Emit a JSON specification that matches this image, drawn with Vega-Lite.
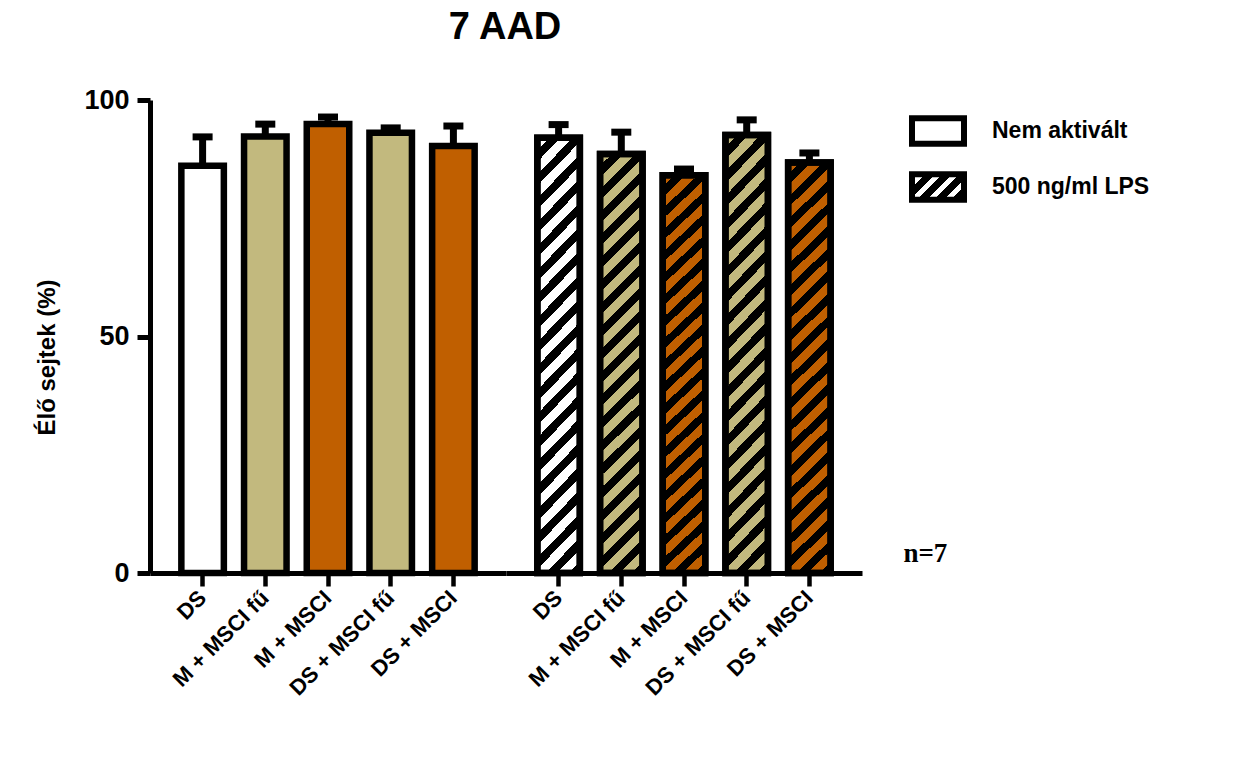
{
  "$schema": "https://vega.github.io/schema/vega-lite/v6.json",
  "padding": {"left": 35, "top": 9, "right": 5, "bottom": 0},
  "bounds": "flush",
  "title": {"text": "7 AAD", "fontSize": 38, "font": "Liberation Sans", "fontWeight": "bold", "anchor": "middle", "color": "black", "offset": 39, "dx": -88},
  "data": {"values": [
    {"treatment": "Nem aktivált", "sample": "DS", "mean": 86.1, "upper": 92.2},
    {"treatment": "Nem aktivált", "sample": "M + MSCI fű", "mean": 92.3, "upper": 94.9},
    {"treatment": "Nem aktivált", "sample": "M + MSCI", "mean": 94.9, "upper": 96.4},
    {"treatment": "Nem aktivált", "sample": "DS + MSCI fű", "mean": 93.1, "upper": 94.1},
    {"treatment": "Nem aktivált", "sample": "DS + MSCI", "mean": 90.3, "upper": 94.5},
    {"treatment": "500 ng/ml LPS", "sample": "DS", "mean": 92.0, "upper": 94.8},
    {"treatment": "500 ng/ml LPS", "sample": "M + MSCI fű", "mean": 88.6, "upper": 93.2},
    {"treatment": "500 ng/ml LPS", "sample": "M + MSCI", "mean": 84.1, "upper": 85.4},
    {"treatment": "500 ng/ml LPS", "sample": "DS + MSCI fű", "mean": 92.6, "upper": 95.8},
    {"treatment": "500 ng/ml LPS", "sample": "DS + MSCI", "mean": 86.8, "upper": 88.8}
  ]},
  "facet": {"column": {"field": "treatment", "type": "nominal", "sort": ["Nem aktivált", "500 ng/ml LPS"], "header": {"title": null, "labels": false}}},
  "spacing": 0,
  "spec": {
    "width": 356,
    "height": 473,
    "encoding": {
      "x": {"field": "sample", "type": "nominal",
        "scale": {"domain": ["DS", "M + MSCI fű", "M + MSCI", "DS + MSCI fű", "DS + MSCI"], "paddingInner": 0.322, "paddingOuter": 0.5},
        "axis": {"title": null, "labelAngle": -45, "labelAlign": "right", "labelBaseline": "middle", "labelFontSize": 22, "labelFontWeight": "bold", "labelFont": "Liberation Sans", "labelColor": "black", "labelPadding": 8, "labelLimit": 400, "labelOverlap": false, "domainColor": "black", "domainWidth": 5, "tickColor": "black", "tickWidth": 4.5, "tickSize": 13}},
      "y": {"field": "mean", "type": "quantitative", "title": "Élő sejtek (%)",
        "scale": {"domain": [0, 100], "nice": false},
        "axis": {"values": [0, 50, 100], "grid": false, "domainColor": "black", "domainWidth": 5, "tickColor": "black", "tickWidth": 5, "tickSize": 13, "labelFontSize": 27, "labelFontWeight": "bold", "labelFont": "Liberation Sans", "labelColor": "black", "labelPadding": 8, "titleFontSize": 24, "titleFontWeight": "bold", "titleFont": "Liberation Sans", "titleColor": "black", "titlePadding": 24, "titleY": 257}}
    },
    "layer": [
      {
        "mark": {"type": "bar", "strokeWidth": 6.5},
        "encoding": {
          "fill": {"field": "sample", "type": "nominal", "legend": null,
            "scale": {"domain": ["DS", "M + MSCI fű", "M + MSCI", "DS + MSCI fű", "DS + MSCI"], "range": ["#ffffff", "#C2B97E", "#C05F00", "#C2B97E", "#C05F00"]}},
          "stroke": {"field": "treatment", "type": "nominal",
            "scale": {"domain": ["Nem aktivált", "500 ng/ml LPS"], "range": ["black", "black"]},
            "legend": {"orient": "none", "legendX": 759, "legendY": 2, "title": null,
              "symbolType": "M-1,-0.49H1V0.49H-1Z", "symbolSize": 2704, "symbolStrokeWidth": 6, "symbolStrokeColor": "black",
              "symbolFillColor": {"expr": "datum.value === '500 ng/ml LPS' ? {gradient: 'linear', x1: 0, y1: 0, x2: 1.201, y2: 0.591, stops: [{offset: 0, color: '#000000'}, {offset: 0.08, color: '#000000'}, {offset: 0.08, color: '#ffffff'}, {offset: 0.17, color: '#ffffff'}, {offset: 0.17, color: '#000000'}, {offset: 0.3, color: '#000000'}, {offset: 0.3, color: '#ffffff'}, {offset: 0.39, color: '#ffffff'}, {offset: 0.39, color: '#000000'}, {offset: 0.52, color: '#000000'}, {offset: 0.52, color: '#ffffff'}, {offset: 0.61, color: '#ffffff'}, {offset: 0.61, color: '#000000'}, {offset: 0.74, color: '#000000'}, {offset: 0.74, color: '#ffffff'}, {offset: 0.83, color: '#ffffff'}, {offset: 0.83, color: '#000000'}, {offset: 1, color: '#000000'}]} : '#ffffff'"},
              "labelFontSize": 23, "labelFontWeight": "bold", "labelFont": "Liberation Sans", "labelColor": "black",
              "labelOffset": 25, "rowPadding": 2, "labelLimit": 400
            }}
        }
      },
      {
        "transform": [{"filter": "datum.treatment === '500 ng/ml LPS'"}],
        "mark": {"type": "bar", "strokeWidth": 6.5, "stroke": "black",
          "fill": {"gradient": "linear", "x1": 0, "y1": 0, "x2": 0.11, "y2": 1.09, "stops": [
            {"offset": 0, "color": "rgba(0,0,0,0)"}, {"offset": 0.026, "color": "rgba(0,0,0,0)"}, {"offset": 0.026, "color": "#000000"}, {"offset": 0.05, "color": "#000000"},
            {"offset": 0.05, "color": "rgba(0,0,0,0)"}, {"offset": 0.076, "color": "rgba(0,0,0,0)"}, {"offset": 0.076, "color": "#000000"}, {"offset": 0.1, "color": "#000000"},
            {"offset": 0.1, "color": "rgba(0,0,0,0)"}, {"offset": 0.126, "color": "rgba(0,0,0,0)"}, {"offset": 0.126, "color": "#000000"}, {"offset": 0.15, "color": "#000000"},
            {"offset": 0.15, "color": "rgba(0,0,0,0)"}, {"offset": 0.176, "color": "rgba(0,0,0,0)"}, {"offset": 0.176, "color": "#000000"}, {"offset": 0.2, "color": "#000000"},
            {"offset": 0.2, "color": "rgba(0,0,0,0)"}, {"offset": 0.226, "color": "rgba(0,0,0,0)"}, {"offset": 0.226, "color": "#000000"}, {"offset": 0.25, "color": "#000000"},
            {"offset": 0.25, "color": "rgba(0,0,0,0)"}, {"offset": 0.276, "color": "rgba(0,0,0,0)"}, {"offset": 0.276, "color": "#000000"}, {"offset": 0.3, "color": "#000000"},
            {"offset": 0.3, "color": "rgba(0,0,0,0)"}, {"offset": 0.326, "color": "rgba(0,0,0,0)"}, {"offset": 0.326, "color": "#000000"}, {"offset": 0.35, "color": "#000000"},
            {"offset": 0.35, "color": "rgba(0,0,0,0)"}, {"offset": 0.376, "color": "rgba(0,0,0,0)"}, {"offset": 0.376, "color": "#000000"}, {"offset": 0.4, "color": "#000000"},
            {"offset": 0.4, "color": "rgba(0,0,0,0)"}, {"offset": 0.426, "color": "rgba(0,0,0,0)"}, {"offset": 0.426, "color": "#000000"}, {"offset": 0.45, "color": "#000000"},
            {"offset": 0.45, "color": "rgba(0,0,0,0)"}, {"offset": 0.476, "color": "rgba(0,0,0,0)"}, {"offset": 0.476, "color": "#000000"}, {"offset": 0.5, "color": "#000000"},
            {"offset": 0.5, "color": "rgba(0,0,0,0)"}, {"offset": 0.526, "color": "rgba(0,0,0,0)"}, {"offset": 0.526, "color": "#000000"}, {"offset": 0.55, "color": "#000000"},
            {"offset": 0.55, "color": "rgba(0,0,0,0)"}, {"offset": 0.576, "color": "rgba(0,0,0,0)"}, {"offset": 0.576, "color": "#000000"}, {"offset": 0.6, "color": "#000000"},
            {"offset": 0.6, "color": "rgba(0,0,0,0)"}, {"offset": 0.626, "color": "rgba(0,0,0,0)"}, {"offset": 0.626, "color": "#000000"}, {"offset": 0.65, "color": "#000000"},
            {"offset": 0.65, "color": "rgba(0,0,0,0)"}, {"offset": 0.676, "color": "rgba(0,0,0,0)"}, {"offset": 0.676, "color": "#000000"}, {"offset": 0.7, "color": "#000000"},
            {"offset": 0.7, "color": "rgba(0,0,0,0)"}, {"offset": 0.726, "color": "rgba(0,0,0,0)"}, {"offset": 0.726, "color": "#000000"}, {"offset": 0.75, "color": "#000000"},
            {"offset": 0.75, "color": "rgba(0,0,0,0)"}, {"offset": 0.776, "color": "rgba(0,0,0,0)"}, {"offset": 0.776, "color": "#000000"}, {"offset": 0.8, "color": "#000000"},
            {"offset": 0.8, "color": "rgba(0,0,0,0)"}, {"offset": 0.826, "color": "rgba(0,0,0,0)"}, {"offset": 0.826, "color": "#000000"}, {"offset": 0.85, "color": "#000000"},
            {"offset": 0.85, "color": "rgba(0,0,0,0)"}, {"offset": 0.876, "color": "rgba(0,0,0,0)"}, {"offset": 0.876, "color": "#000000"}, {"offset": 0.9, "color": "#000000"},
            {"offset": 0.9, "color": "rgba(0,0,0,0)"}, {"offset": 0.926, "color": "rgba(0,0,0,0)"}, {"offset": 0.926, "color": "#000000"}, {"offset": 0.95, "color": "#000000"},
            {"offset": 0.95, "color": "rgba(0,0,0,0)"}, {"offset": 0.976, "color": "rgba(0,0,0,0)"}, {"offset": 0.976, "color": "#000000"}, {"offset": 1, "color": "#000000"}
          ]}},
        "encoding": {}
      },
      {
        "mark": {"type": "rule", "strokeWidth": 7, "color": "black"},
        "encoding": {"y2": {"field": "upper"}}
      },
      {
        "mark": {"type": "tick", "thickness": 7, "size": 20, "color": "black", "opacity": 1},
        "encoding": {"y": {"field": "upper", "type": "quantitative", "title": "Élő sejtek (%)"}}
      },
      {
        "transform": [{"filter": "datum.treatment === '500 ng/ml LPS' && datum.sample === 'DS + MSCI'"}],
        "mark": {"type": "text", "text": "n=7", "font": "Liberation Serif", "fontWeight": "bold", "fontSize": 27, "dx": 116, "dy": -11, "baseline": "alphabetic", "align": "center", "color": "black"},
        "encoding": {"y": {"datum": 0}}
      }
    ]
  },
  "config": {
    "view": {"stroke": null},
    "font": "Liberation Sans"
  }
}
